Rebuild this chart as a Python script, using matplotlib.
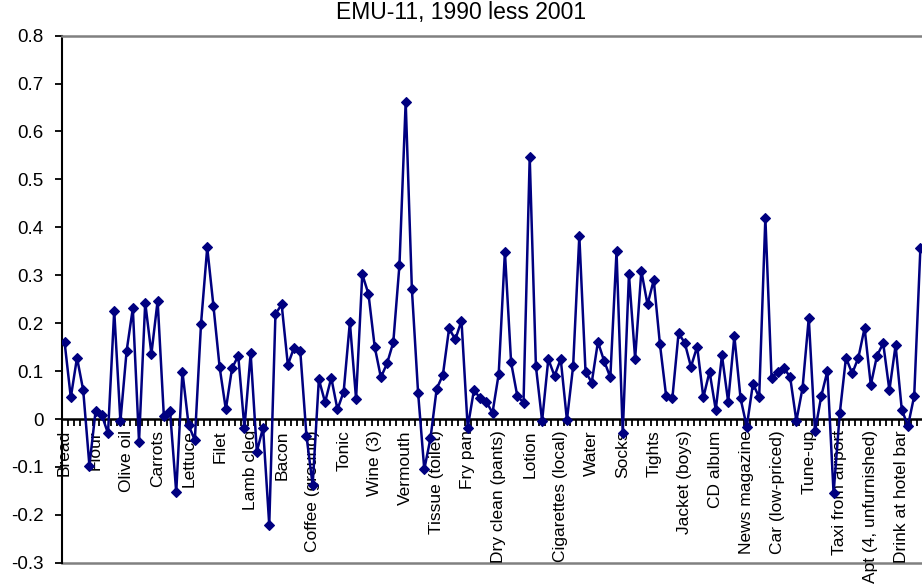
import matplotlib
matplotlib.use("Agg")
import matplotlib.pyplot as plt
import numpy as np
from matplotlib.ticker import FixedLocator, NullFormatter

plt.rcParams["font.family"] = ["Liberation Sans", "DejaVu Sans"]
plt.rcParams["axes.unicode_minus"] = False

title = "EMU-11, 1990 less 2001"

# price differences per item, in category order
values = [
    0.160, 0.045, 0.128, 0.060, -0.097, 0.017, 0.008, -0.030, 0.226, -0.005,
    0.142, 0.231, -0.047, 0.243, 0.136, 0.247, 0.007, 0.017, -0.153, 0.099,
    -0.013, -0.044, 0.199, 0.358, 0.236, 0.108, 0.020, 0.106, 0.132, -0.019,
    0.137, -0.068, -0.018, -0.221, 0.219, 0.239, 0.113, 0.149, 0.142, -0.035,
    -0.138, 0.083, 0.035, 0.086, 0.020, 0.057, 0.202, 0.042, 0.302, 0.261,
    0.151, 0.087, 0.116, 0.160, 0.322, 0.662, 0.271, 0.055, -0.105, -0.040,
    0.063, 0.092, 0.189, 0.166, 0.205, -0.018, 0.060, 0.044, 0.036, 0.013,
    0.094, 0.349, 0.118, 0.048, 0.034, 0.547, 0.110, -0.004, 0.125, 0.090,
    0.125, -0.002, 0.110, 0.382, 0.099, 0.076, 0.161, 0.121, 0.087, 0.350,
    -0.030, 0.302, 0.126, 0.309, 0.239, 0.290, 0.156, 0.048, 0.043, 0.179,
    0.159, 0.109, 0.151, 0.045, 0.099, 0.019, 0.133, 0.036, 0.173, 0.043,
    -0.016, 0.074, 0.045, 0.420, 0.085, 0.099, 0.107, 0.087, -0.004, 0.065,
    0.211, -0.026, 0.047, 0.100, -0.155, 0.012, 0.128, 0.095, 0.128, 0.190,
    0.071, 0.132, 0.158, 0.060, 0.154, 0.019, -0.014, 0.048, 0.357,
]

# every fifth item carries a label
label_names = [
    "Bread", "Flour", "Olive oil", "Carrots", "Lettuce", "Filet", "Lamb cleg",
    "Bacon", "Coffee (ground)", "Tonic", "Wine (3)", "Vermouth", "Tissue (toilet)",
    "Fry pan", "Dry clean (pants)", "Lotion", "Cigarettes (local)", "Water",
    "Socks", "Tights", "Jacket (boys)", "CD album", "News magazine",
    "Car (low-priced)", "Tune-up", "Taxi from airport", "Apt (4, unfurnished)",
    "Drink at hotel bar",
]
label_step = 5

y_ticks = [0.8, 0.7, 0.6, 0.5, 0.4, 0.3, 0.2, 0.1, 0.0, -0.1, -0.2, -0.3]

W, H = 922, 586
fig = plt.figure(figsize=(W / 100, H / 100), dpi=100)
fig.patch.set_facecolor("white")

left_px, right_px, top_px, bottom_px = 61.5, 923.5, 35.6, 562.8
ax = fig.add_axes([left_px / W, 1 - bottom_px / H,
                   (right_px - left_px) / W, (bottom_px - top_px) / H])

x = np.arange(len(values))
ax.plot(x, values, color="#000080", lw=1.8, marker="D", ms=5,
        mfc="#000080", mec="#000080", mew=0.8, zorder=4)

ax.set_xlim(-0.5, len(values) - 0.5)
ax.set_ylim(min(y_ticks), max(y_ticks))

# y axis
ax.yaxis.set_major_locator(FixedLocator(y_ticks))
ax.set_yticklabels(["0" if v == 0 else f"{v:g}" for v in y_ticks])
ax.tick_params(axis="y", direction="out", length=5, width=1.3, pad=8,
               labelsize=13.5, colors="black")

# x axis crosses at zero; labels every fifth category
label_pos = np.arange(len(label_names)) * label_step
ax.xaxis.set_major_locator(FixedLocator(label_pos))
ax.set_xticklabels(label_names)
ax.xaxis.set_minor_locator(FixedLocator(np.arange(-0.5, len(values), 1.0)))
ax.xaxis.set_minor_formatter(NullFormatter())
ax.tick_params(axis="x", which="major", length=0, pad=8, labelsize=12.5,
               labelrotation=90)
ax.tick_params(axis="x", which="minor", direction="out", length=5, width=1.3,
               colors="black")
for lbl in ax.get_xticklabels():
    lbl.set_verticalalignment("top")
    lbl.set_horizontalalignment("center")

ax.spines["bottom"].set_position(("data", 0))
ax.spines["bottom"].set_color("black")
ax.spines["bottom"].set_linewidth(1.8)
ax.spines["bottom"].set_zorder(3)
ax.spines["left"].set_color("black")
ax.spines["left"].set_linewidth(1.5)
ax.spines["top"].set_color("#808080")
ax.spines["top"].set_linewidth(1.8)
ax.spines["right"].set_color("#808080")
ax.spines["right"].set_linewidth(1.8)
ax.axhline(min(y_ticks), color="#808080", lw=1.8, zorder=1, clip_on=False)

fig.text(0.5, 1 - 13 / H, title, ha="center", va="center", fontsize=16.5)

fig.savefig("out.png", dpi=100)
